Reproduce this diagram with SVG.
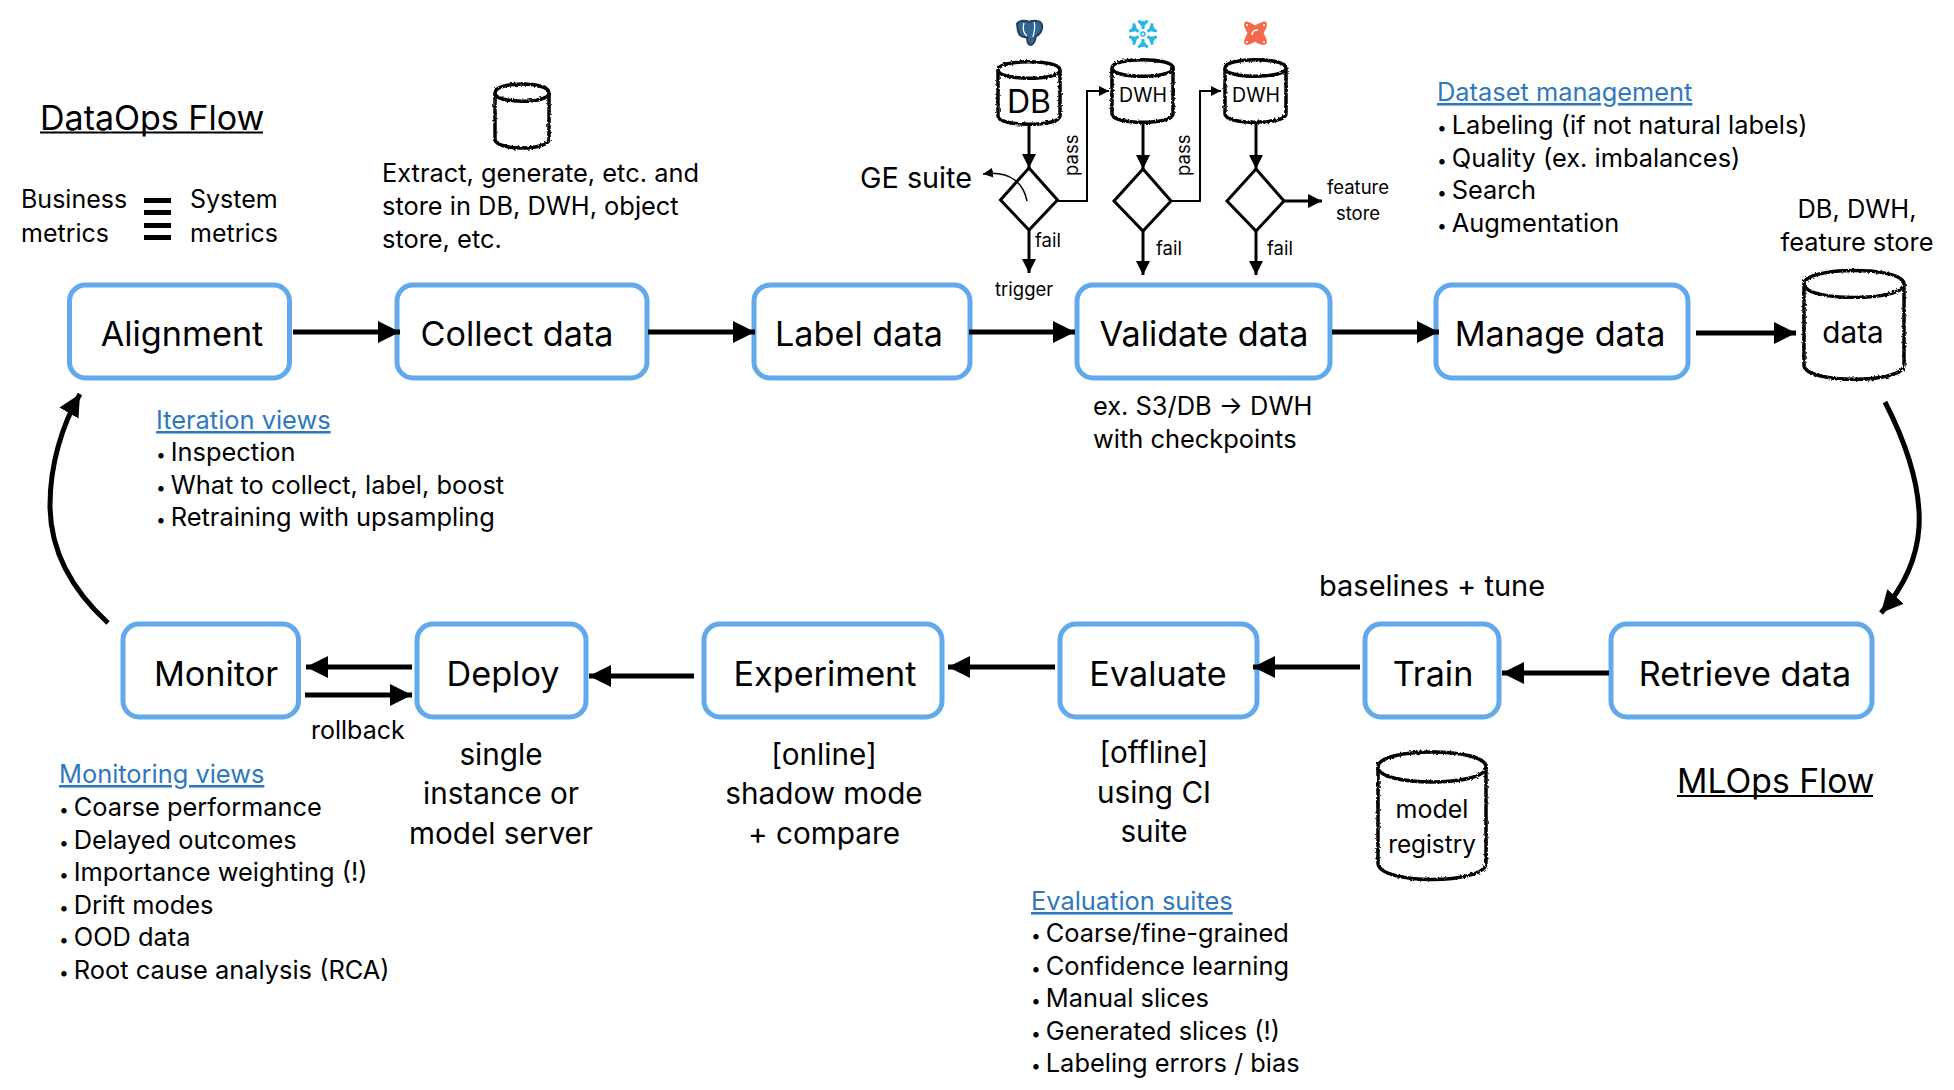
<svg xmlns="http://www.w3.org/2000/svg" width="1954" height="1090" viewBox="0 0 1954 1090">
<style>
text{font-family:"Inter","Liberation Sans",sans-serif;fill:#000}
.n{font-size:34.2px}.b{font-size:25.4px}.m{font-size:29.7px}.s{font-size:18.500px}.c{text-anchor:middle}
.l{fill:#2f78bd;text-decoration:underline}
.u{font-size:17.500px}
.box{fill:#fff;stroke:#61a9ec;stroke-width:5}
.a{fill:none;stroke:#000;stroke-width:5}
.t{fill:none;stroke:#000;stroke-width:3}
.d{fill:#fff;stroke:#000;stroke-width:3}
.cy{fill:#fff;stroke:#000;stroke-width:3.500;filter:url(#rough)}
</style>
<defs>
<filter id="rough" x="-10%" y="-10%" width="120%" height="120%"><feTurbulence type="fractalNoise" baseFrequency="0.5" numOctaves="2" seed="3"/><feDisplacementMap in="SourceGraphic" scale="3"/></filter>
<marker id="big" markerUnits="userSpaceOnUse" markerWidth="24" markerHeight="24" refX="22" refY="11" orient="auto"><path d="M0 0L22 11L0 22Z"/></marker>
<marker id="mid" markerUnits="userSpaceOnUse" markerWidth="16" markerHeight="16" refX="14" refY="7" orient="auto"><path d="M0 0L14 7L0 14Z"/></marker>
<marker id="sm" markerUnits="userSpaceOnUse" markerWidth="12" markerHeight="12" refX="10" refY="5" orient="auto"><path d="M0 0L10 5L0 10Z"/></marker>
</defs>
<rect width="1954" height="1090" fill="#fff"/>

<g id="title-dataops"><text x="40" y="130" font-size="34">DataOps Flow</text><rect x="40" y="131.500" width="223" height="2"/></g>
<g id="title-mlops"><text x="1677" y="793" font-size="33.700">MLOps Flow</text><rect x="1677" y="795" width="196" height="2"/></g>

<g id="metrics">
<text class="b" x="21" y="208" style="font-size:25px">Business</text><text class="b" x="21" y="242" style="font-size:25px">metrics</text>
<text class="b" x="190" y="208" style="font-size:25px">System</text><text class="b" x="190" y="242" style="font-size:25px">metrics</text>
<rect x="144" y="198" width="27" height="5"/><rect x="144" y="210" width="27" height="5"/><rect x="144" y="223" width="27" height="5"/><rect x="144" y="235" width="27" height="5"/>
</g>

<g id="node-alignment"><rect class="box" x="69.500" y="285" width="220" height="93" rx="16"/><text class="n c" x="182" y="346">Alignment</text></g>
<g id="node-collect"><rect class="box" x="397" y="285" width="250" height="93" rx="16"/><text class="n c" x="517" y="346">Collect data</text></g>
<g id="node-label"><rect class="box" x="754" y="285" width="216" height="93" rx="16"/><text class="n c" x="859" y="346">Label data</text></g>
<g id="node-validate"><rect class="box" x="1077" y="285" width="253" height="93" rx="16"/><text class="n c" x="1204" y="346">Validate data</text></g>
<g id="node-manage"><rect class="box" x="1436" y="285" width="252" height="93" rx="16"/><text class="n c" x="1560" y="346">Manage data</text></g>
<g id="node-retrieve"><rect class="box" x="1611" y="624" width="261" height="93" rx="16"/><text class="n c" x="1745" y="686">Retrieve data</text></g>
<g id="node-train"><rect class="box" x="1365" y="624" width="134" height="93" rx="16"/><text class="n c" x="1433" y="686">Train</text></g>
<g id="node-evaluate"><rect class="box" x="1060" y="624" width="197" height="93" rx="16"/><text class="n c" x="1158" y="686">Evaluate</text></g>
<g id="node-experiment"><rect class="box" x="704" y="624" width="238" height="93" rx="16"/><text class="n c" x="825" y="686">Experiment</text></g>
<g id="node-deploy"><rect class="box" x="417" y="624" width="169" height="93" rx="16"/><text class="n c" x="503" y="686">Deploy</text></g>
<g id="node-monitor"><rect class="box" x="123" y="624" width="175.500" height="93" rx="16"/><text class="n c" x="216" y="686">Monitor</text></g>

<g id="connectors">
<path class="a" marker-end="url(#big)" d="M293 332H400"/>
<path class="a" marker-end="url(#big)" d="M648 332H755"/>
<path class="a" marker-end="url(#big)" d="M969 332H1075"/>
<path class="a" marker-end="url(#big)" d="M1332 332H1439"/>
<path class="a" marker-end="url(#big)" d="M1696 333H1796"/>
<path class="a" marker-end="url(#big)" d="M1885 402C1908 447 1921 490 1919 527C1917 560 1903 588 1881 613"/>
<path class="a" marker-end="url(#big)" d="M1609 673H1502"/>
<path class="a" marker-end="url(#big)" d="M1360 667H1253"/>
<path class="a" marker-end="url(#big)" d="M1055 667H948"/>
<path class="a" marker-end="url(#big)" d="M694 676H589"/>
<path class="a" marker-end="url(#big)" d="M412 667H306"/>
<path class="a" marker-end="url(#big)" d="M305 695H412"/>
<path class="a" marker-end="url(#big)" d="M108 623C72 590 50 550 50 505C50 465 62 425 80 394"/>
<path class="t" marker-end="url(#mid)" d="M1029 124V168"/>
<path class="t" marker-end="url(#mid)" d="M1143 122V169"/>
<path class="t" marker-end="url(#mid)" d="M1256 122V169"/>
<path class="t" marker-end="url(#mid)" d="M1029 230V273"/>
<path class="t" marker-end="url(#mid)" d="M1143 231V275"/>
<path class="t" marker-end="url(#mid)" d="M1256 231V275"/>
<path class="t" marker-end="url(#mid)" d="M1283 201H1322"/>
<path fill="none" stroke="#000" stroke-width="2" marker-end="url(#sm)" d="M1058 201H1087V91H1109"/>
<path fill="none" stroke="#000" stroke-width="2" marker-end="url(#sm)" d="M1171 201H1200V91H1221"/>
</g>

<g id="store-top"><path class="cy" d="M495 93C495 81 549 81 549 93V139C549 151 495 151 495 139Z"/><path class="cy" d="M495 93C495 104 549 104 549 93"/></g>
<g id="store-data"><path class="cy" d="M1804 284C1804 266 1904 266 1904 284V365C1904 384 1804 384 1804 365Z"/><path class="cy" d="M1804 284C1804 302 1904 302 1904 284"/><text class="m c" x="1853" y="343">data</text></g>
<g id="store-registry"><path class="cy" d="M1378 767C1378 747 1486 747 1486 767V863C1486 885 1378 885 1378 863Z"/><path class="cy" d="M1378 767C1378 787 1486 787 1486 767"/><text class="b c" x="1432" y="818" style="font-size:25px">model</text><text class="b c" x="1432" y="853" style="font-size:24.300px">registry</text></g>
<g id="store-db"><path class="cy" d="M998 70C998 59 1060 59 1060 70V116C1060 127 998 127 998 116Z"/><path class="cy" d="M998 70C998 81 1060 81 1060 70"/><text class="c" x="1029" y="113" font-size="32">DB</text></g>
<g id="store-dwh1"><path class="cy" d="M1112 68C1112 57 1173 57 1173 68V114C1173 125 1112 125 1112 114Z"/><path class="cy" d="M1112 68C1112 79 1173 79 1173 68"/><text class="c" x="1143" y="102" font-size="19.500">DWH</text></g>
<g id="store-dwh2"><path class="cy" d="M1225 68C1225 57 1286 57 1286 68V114C1286 125 1225 125 1225 114Z"/><path class="cy" d="M1225 68C1225 79 1286 79 1286 68"/><text class="c" x="1256" y="102" font-size="19.500">DWH</text></g>

<g id="diamond-1"><path class="d" d="M1029 168L1057.500 200L1029 230L1000.500 200Z"/></g>
<g id="diamond-2"><path class="d" d="M1143 169L1171 201L1143 231L1114 201Z"/></g>
<g id="diamond-3"><path class="d" d="M1256 169L1284 201L1256 231L1227 201Z"/></g>
<path id="ge-link" fill="none" stroke="#000" stroke-width="1.500" marker-end="url(#sm)" d="M1027 201C1024 185 1012 170 983 174"/>

<g id="icon-postgres"><path fill="#336791" stroke="#2a3f55" stroke-width="2" d="M1017 24C1019 20 1026 20 1029 22C1033 20 1041 20 1042 25C1043 31 1039 35 1036 36C1035 40 1035 44 1031 45C1028 45 1027 41 1027 37C1023 38 1019 36 1018 31Z"/><path fill="none" stroke="#fff" stroke-width="1.200" d="M1024 23C1022 29 1024 34 1027 36M1034 22C1036 27 1034 32 1033 37"/></g>
<g id="icon-snowflake" fill="none" stroke="#29b5e8" stroke-width="3" transform="translate(1143 34)">
<path id="arm" d="M0 -5V-13M-4.500 -13.500L0 -8.500L4.500 -13.500"/>
<path transform="rotate(60)" d="M0 -5V-13M-4.500 -13.500L0 -8.500L4.500 -13.500"/>
<path transform="rotate(120)" d="M0 -5V-13M-4.500 -13.500L0 -8.500L4.500 -13.500"/>
<path transform="rotate(180)" d="M0 -5V-13M-4.500 -13.500L0 -8.500L4.500 -13.500"/>
<path transform="rotate(240)" d="M0 -5V-13M-4.500 -13.500L0 -8.500L4.500 -13.500"/>
<path transform="rotate(300)" d="M0 -5V-13M-4.500 -13.500L0 -8.500L4.500 -13.500"/>
<circle r="2" stroke-width="1.500"/></g>
<g id="icon-dbt"><path fill="#f4694c" stroke="#f4694c" stroke-width="3" stroke-linejoin="round" d="M1246 23C1249 23 1253 26 1255 27C1258 26 1262 22 1265 23C1267 26 1263 30 1262 33C1263 36 1267 41 1265 43C1262 45 1257 41 1255 40C1253 41 1248 45 1246 43C1244 41 1248 36 1249 33C1248 30 1244 26 1246 23Z"/><path fill="none" stroke="#fff" stroke-width="1.500" d="M1252 35C1252 31 1255 30 1258 30"/><circle cx="1247" cy="25" r="1" fill="#fff"/><circle cx="1264" cy="25" r="1" fill="#fff"/><circle cx="1247" cy="42" r="1" fill="#fff"/><circle cx="1264" cy="42" r="1" fill="#fff"/></g>

<g id="labels-top">
<text x="860" y="188" font-size="28.800">GE suite</text>
<text class="s" x="1035" y="247">fail</text><text class="s" x="1156" y="255">fail</text><text class="s" x="1267" y="255">fail</text>
<text class="s" x="995" y="296">trigger</text>
<text class="s" transform="translate(1078 176) rotate(-90)">pass</text><text class="s" transform="translate(1190 176) rotate(-90)">pass</text>
<text class="s c" x="1358" y="194">feature</text><text class="s c" x="1358" y="220">store</text>
</g>
<g id="note-extract"><text class="b" x="382" y="182">Extract, generate, etc. and</text><text class="b" x="382" y="215">store in DB, DWH, object</text><text class="b" x="382" y="248">store, etc.</text></g>
<g id="note-dataset"><text class="b l" x="1437" y="101">Dataset management</text>
<text class="b" x="1437" y="134"><tspan class="u">• </tspan>Labeling (if not natural labels)</text>
<text class="b" x="1437" y="167"><tspan class="u">• </tspan>Quality (ex. imbalances)</text>
<text class="b" x="1437" y="199"><tspan class="u">• </tspan>Search</text>
<text class="b" x="1437" y="232"><tspan class="u">• </tspan>Augmentation</text></g>
<g id="note-store"><text class="b c" x="1857" y="218">DB, DWH,</text><text class="b c" x="1857" y="251">feature store</text></g>
<g id="note-iteration"><text class="b l" x="156" y="429">Iteration views</text>
<text class="b" x="156" y="461"><tspan class="u">• </tspan>Inspection</text>
<text class="b" x="156" y="494"><tspan class="u">• </tspan>What to collect, label, boost</text>
<text class="b" x="156" y="526"><tspan class="u">• </tspan>Retraining with upsampling</text></g>
<g id="note-validate"><text class="b" x="1093" y="415">ex. S3/DB → DWH</text><text class="b" x="1093" y="448">with checkpoints</text></g>
<text id="note-baselines" x="1319" y="596" font-size="29">baselines + tune</text>
<text id="note-rollback" x="311" y="739" font-size="25">rollback</text>
<g id="note-deploy"><text class="m c" x="501" y="765">single</text><text class="m c" x="501" y="804">instance or</text><text class="m c" x="501" y="844">model server</text></g>
<g id="note-experiment"><text class="m c" x="824" y="765">[online]</text><text class="m c" x="824" y="804">shadow mode</text><text class="m c" x="824" y="844">+ compare</text></g>
<g id="note-evaluate"><text class="m c" x="1154" y="763">[offline]</text><text class="m c" x="1154" y="803">using CI</text><text class="m c" x="1154" y="842">suite</text></g>
<g id="note-monitoring"><text class="b l" x="59" y="783">Monitoring views</text>
<text class="b" x="59" y="816"><tspan class="u">• </tspan>Coarse performance</text>
<text class="b" x="59" y="849"><tspan class="u">• </tspan>Delayed outcomes</text>
<text class="b" x="59" y="881"><tspan class="u">• </tspan>Importance weighting (!)</text>
<text class="b" x="59" y="914"><tspan class="u">• </tspan>Drift modes</text>
<text class="b" x="59" y="946"><tspan class="u">• </tspan>OOD data</text>
<text class="b" x="59" y="979"><tspan class="u">• </tspan>Root cause analysis (RCA)</text></g>
<g id="note-suites"><text class="b l" x="1031" y="910">Evaluation suites</text>
<text class="b" x="1031" y="942"><tspan class="u">• </tspan>Coarse/fine-grained</text>
<text class="b" x="1031" y="975"><tspan class="u">• </tspan>Confidence learning</text>
<text class="b" x="1031" y="1007"><tspan class="u">• </tspan>Manual slices</text>
<text class="b" x="1031" y="1040"><tspan class="u">• </tspan>Generated slices (!)</text>
<text class="b" x="1031" y="1072"><tspan class="u">• </tspan>Labeling errors / bias</text></g>
</svg>
